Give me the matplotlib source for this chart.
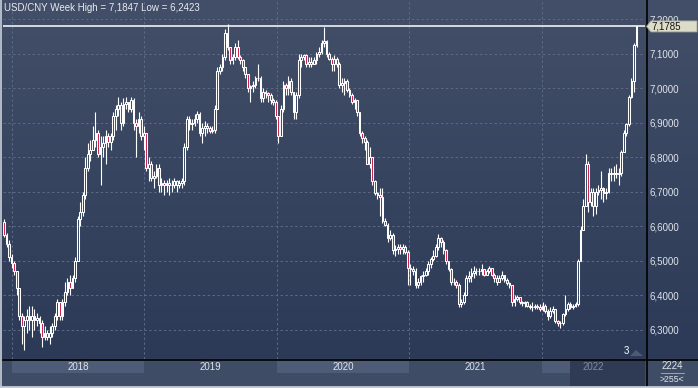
import matplotlib
matplotlib.use("Agg")
import matplotlib.pyplot as plt
import matplotlib.dates as mdates
import numpy as np
import pandas as pd
from matplotlib.patches import Rectangle, Polygon
from matplotlib.colors import LinearSegmentedColormap

W, H = 698, 388

# weekly USD/CNY candles
first_week = "2017-12-11"
first_open = 6.613

closes = [
    6.575, 6.55, 6.51, 6.495, 6.47, 6.42, 6.34, 6.31, 6.33, 6.34,
    6.33, 6.34, 6.33, 6.335, 6.32, 6.28, 6.29, 6.28, 6.29, 6.31,
    6.34, 6.38, 6.34, 6.38, 6.41, 6.44, 6.42, 6.45, 6.50, 6.62,
    6.64, 6.69, 6.77, 6.81, 6.82, 6.85, 6.87, 6.81, 6.83, 6.84,
    6.86, 6.845, 6.86, 6.92, 6.94, 6.95, 6.90, 6.955, 6.96, 6.94,
    6.965, 6.90, 6.89, 6.91, 6.86, 6.87, 6.77, 6.78, 6.74, 6.745,
    6.77, 6.72, 6.725, 6.72, 6.725, 6.72, 6.72, 6.73, 6.72, 6.725,
    6.73, 6.83, 6.91, 6.895, 6.90, 6.91, 6.925, 6.87, 6.885, 6.89,
    6.885, 6.875, 6.88, 6.94, 7.05, 7.06, 7.09, 7.16, 7.12, 7.08,
    7.09, 7.12, 7.09, 7.08, 7.06, 7.04, 7.00, 7.005, 7.01, 7.03,
    7.03, 6.97, 6.99, 6.985, 6.98, 6.965, 6.96, 6.92, 6.86, 6.94,
    7.01, 7.00, 7.02, 6.99, 6.93, 6.98, 7.08, 7.09, 7.095, 7.07,
    7.075, 7.07, 7.08, 7.10, 7.105, 7.13, 7.135, 7.10, 7.085, 7.07,
    7.085, 7.07, 7.01, 7.015, 7.02, 6.995, 6.98, 6.96, 6.965, 6.93,
    6.87, 6.855, 6.845, 6.78, 6.80, 6.73, 6.695, 6.69, 6.685, 6.615,
    6.605, 6.565, 6.575, 6.53, 6.535, 6.54, 6.535, 6.54, 6.525, 6.48,
    6.475, 6.47, 6.43, 6.44, 6.455, 6.46, 6.47, 6.49, 6.505, 6.515,
    6.54, 6.565, 6.555, 6.53, 6.50, 6.475, 6.44, 6.44, 6.43, 6.375,
    6.38, 6.40, 6.45, 6.455, 6.465, 6.47, 6.47, 6.47, 6.475, 6.46,
    6.47, 6.48, 6.46, 6.45, 6.44, 6.45, 6.46, 6.445, 6.435, 6.43,
    6.38, 6.39, 6.395, 6.38, 6.378, 6.38, 6.37, 6.365, 6.365, 6.37,
    6.365, 6.36, 6.37, 6.355, 6.34, 6.355, 6.36, 6.325, 6.32, 6.32,
    6.345, 6.36, 6.375, 6.365, 6.37, 6.375, 6.50, 6.59, 6.66, 6.78,
    6.67, 6.70, 6.66, 6.70, 6.705, 6.71, 6.695, 6.70, 6.755, 6.75,
    6.755, 6.75, 6.755, 6.815, 6.87, 6.895, 6.975, 7.02, 7.125, 7.1785,
]

highs = [
    6.62, 6.58, 6.56, 6.52, 6.50, 6.47, 6.42, 6.35, 6.34, 6.36,
    6.37, 6.37, 6.36, 6.35, 6.34, 6.33, 6.31, 6.30, 6.31, 6.32,
    6.35, 6.39, 6.38, 6.39, 6.44, 6.45, 6.46, 6.46, 6.51, 6.63,
    6.67, 6.70, 6.80, 6.84, 6.85, 6.89, 6.93, 6.88, 6.86, 6.86,
    6.88, 6.87, 6.87, 6.93, 6.95, 6.975, 6.96, 6.97, 6.975, 6.96,
    6.975, 6.97, 6.91, 6.93, 6.92, 6.89, 6.87, 6.80, 6.79, 6.76,
    6.78, 6.78, 6.74, 6.735, 6.735, 6.74, 6.735, 6.74, 6.735, 6.735,
    6.74, 6.84, 6.92, 6.92, 6.91, 6.925, 6.935, 6.93, 6.90, 6.905,
    6.90, 6.89, 6.89, 6.95, 7.06, 7.07, 7.10, 7.17, 7.1847, 7.12,
    7.10, 7.13, 7.14, 7.095, 7.085, 7.06, 7.04, 7.01, 7.02, 7.035,
    7.07, 7.035, 7.00, 6.995, 6.99, 6.985, 6.97, 6.965, 6.92, 6.95,
    7.02, 7.015, 7.035, 7.03, 6.99, 6.99, 7.10, 7.10, 7.10, 7.10,
    7.09, 7.09, 7.09, 7.105, 7.12, 7.14, 7.176, 7.14, 7.105, 7.09,
    7.095, 7.09, 7.075, 7.03, 7.03, 7.025, 7.00, 6.985, 6.97, 6.965,
    6.93, 6.875, 6.86, 6.85, 6.83, 6.80, 6.735, 6.70, 6.71, 6.71,
    6.625, 6.61, 6.59, 6.58, 6.545, 6.55, 6.55, 6.55, 6.545, 6.53,
    6.49, 6.485, 6.48, 6.45, 6.46, 6.47, 6.48, 6.50, 6.51, 6.53,
    6.55, 6.578, 6.57, 6.56, 6.535, 6.50, 6.48, 6.45, 6.445, 6.435,
    6.39, 6.41, 6.46, 6.47, 6.48, 6.485, 6.48, 6.48, 6.49, 6.475,
    6.475, 6.485, 6.48, 6.465, 6.46, 6.46, 6.47, 6.46, 6.45, 6.44,
    6.43, 6.40, 6.40, 6.395, 6.385, 6.385, 6.385, 6.375, 6.38, 6.375,
    6.375, 6.375, 6.38, 6.375, 6.36, 6.365, 6.37, 6.36, 6.33, 6.325,
    6.35, 6.40, 6.38, 6.38, 6.375, 6.38, 6.505, 6.60, 6.68, 6.81,
    6.79, 6.71, 6.71, 6.71, 6.72, 6.76, 6.715, 6.71, 6.77, 6.77,
    6.775, 6.78, 6.77, 6.82, 6.88, 6.90, 6.98, 7.03, 7.13, 7.18,
]

lows = [
    6.57, 6.54, 6.50, 6.48, 6.46, 6.40, 6.33, 6.26, 6.2423, 6.29,
    6.30, 6.28, 6.30, 6.31, 6.29, 6.25, 6.27, 6.27, 6.26, 6.28,
    6.30, 6.33, 6.33, 6.33, 6.37, 6.40, 6.40, 6.42, 6.44, 6.50,
    6.60, 6.63, 6.68, 6.76, 6.79, 6.82, 6.83, 6.80, 6.72, 6.80,
    6.78, 6.83, 6.82, 6.85, 6.88, 6.92, 6.88, 6.89, 6.94, 6.93,
    6.93, 6.88, 6.80, 6.87, 6.85, 6.82, 6.76, 6.73, 6.73, 6.71,
    6.74, 6.70, 6.70, 6.69, 6.70, 6.69, 6.70, 6.71, 6.70, 6.71,
    6.71, 6.72, 6.82, 6.88, 6.88, 6.89, 6.90, 6.86, 6.84, 6.86,
    6.87, 6.87, 6.87, 6.87, 6.94, 7.04, 7.05, 7.08, 7.11, 7.07,
    7.07, 7.08, 7.085, 7.07, 7.05, 7.03, 6.99, 6.96, 6.99, 7.00,
    7.02, 6.96, 6.96, 6.97, 6.96, 6.955, 6.95, 6.91, 6.84, 6.86,
    6.93, 6.98, 6.98, 6.98, 6.91, 6.91, 6.97, 7.06, 7.08, 7.06,
    7.06, 7.06, 7.07, 7.07, 7.09, 7.10, 7.12, 7.09, 7.08, 7.05,
    7.05, 7.06, 7.00, 6.99, 6.98, 6.99, 6.975, 6.955, 6.94, 6.92,
    6.86, 6.84, 6.82, 6.78, 6.77, 6.72, 6.69, 6.68, 6.63, 6.61,
    6.60, 6.555, 6.56, 6.52, 6.515, 6.52, 6.52, 6.52, 6.52, 6.43,
    6.43, 6.46, 6.42, 6.42, 6.43, 6.44, 6.455, 6.46, 6.48, 6.50,
    6.51, 6.53, 6.54, 6.52, 6.49, 6.47, 6.43, 6.43, 6.42, 6.365,
    6.365, 6.375, 6.40, 6.44, 6.44, 6.45, 6.46, 6.46, 6.46, 6.455,
    6.46, 6.465, 6.455, 6.44, 6.43, 6.44, 6.445, 6.44, 6.43, 6.42,
    6.37, 6.37, 6.385, 6.375, 6.37, 6.365, 6.365, 6.36, 6.355, 6.36,
    6.36, 6.355, 6.355, 6.35, 6.33, 6.335, 6.35, 6.32, 6.31, 6.305,
    6.315, 6.34, 6.355, 6.36, 6.36, 6.365, 6.37, 6.50, 6.59, 6.66,
    6.64, 6.66, 6.63, 6.635, 6.69, 6.68, 6.67, 6.68, 6.695, 6.73,
    6.73, 6.74, 6.72, 6.745, 6.815, 6.86, 6.89, 6.97, 6.99, 7.12,
]

price_ticks = [6.3, 6.4, 6.5, 6.6, 6.7, 6.8, 6.9, 7.0, 7.1, 7.2]
years = [2018, 2019, 2020, 2021, 2022]
title = "USD/CNY Week High = 7,1847 Low = 6,2423"
footer_top = "2224"
footer_bottom = ">255<"
marker_label = "3"

# colours
BG_TOP = "#434f68"
BG_BOT = "#2c3a57"
BAND = "#3f4c66"
BAND_BOX = "#4f5c77"
GRID = "#5b6a86"
TXT = "#dfe4ec"
RED = "#c81e48"
FONT = "Liberation Sans"

dates = pd.date_range(first_week, periods=len(closes), freq="7D")
x = mdates.date2num(dates)
c = np.array(closes)
o = np.concatenate([[first_open], c[:-1]])
hi = np.maximum(np.array(highs), np.maximum(o, c))
lo = np.minimum(np.array(lows), np.minimum(o, c))
top_body = np.maximum(o, c)
bot_body = np.minimum(o, c)
down = c < o


def fy(ypx):
    return 1 - ypx / H


fig = plt.figure(figsize=(W / 100, H / 100), dpi=100)
fig.patch.set_facecolor(BAND)

# background in pixel coordinates
bg = fig.add_axes([0, 0, 1, 1], zorder=0)
bg.set_xlim(0, W)
bg.set_ylim(H, 0)
bg.axis("off")
grad = np.linspace(0, 1, 256)[:, None]
cmap = LinearSegmentedColormap.from_list("bg", [BG_TOP, BG_BOT])
bg.imshow(grad, cmap=cmap, extent=(0, W, 359, 0), aspect="auto")
bg.add_patch(Rectangle((0, 359), W, 28, color=BAND))

# main price axes
ax = fig.add_axes([3 / W, fy(359), 642 / W, 359 / H], zorder=2)
ax.patch.set_alpha(0)
ax.set_ylim(6.2159, 7.255)
ax.set_xlim(x[0] - 2.7, x[-1] + 23.4)
for s in ax.spines.values():
    s.set_visible(False)

year_x = mdates.date2num(pd.to_datetime([f"{y}-01-01" for y in years]))
ax.set_xticks(year_x)
ax.set_yticks(price_ticks)
ax.tick_params(axis="x", length=0, labelbottom=False)
ax.yaxis.tick_right()
ax.tick_params(axis="y", length=0, pad=3, labelsize=7, labelcolor=TXT)
ax.set_yticklabels([f"{v:.4f}".replace(".", ",") for v in price_ticks],
                   fontfamily=FONT)
ax.grid(True, color=GRID, lw=0.7, ls=(0, (2.5, 2.5)))

# candles
ax.vlines(x, top_body, hi, color="white", lw=0.8, zorder=3)
ax.vlines(x, lo, bot_body, color="white", lw=0.8, zorder=3)
face = [RED if d else "none" for d in down]
ax.bar(x, top_body - bot_body, bottom=bot_body, width=4.8, color=face,
       edgecolor="white", linewidth=0.75, zorder=4)

last = closes[-1]
ax.axhline(last, color="white", lw=1.1, zorder=5)

# band with years
bax = fig.add_axes([3 / W, fy(386), 642 / W, 26 / H], zorder=2, sharex=ax)
bax.patch.set_alpha(0)
bax.set_ylim(0, 1)
bax.axis("off")
edges = list(year_x) + [ax.get_xlim()[1]]
for k, yv in enumerate(years):
    if k % 2 == 0:
        bax.axvspan(edges[k], edges[k + 1], ymin=0.5, ymax=0.96, color=BAND_BOX, lw=0)
bax.add_patch(Rectangle((0.883, 0), 0.117, 0.96, transform=bax.transAxes,
                        color="#2f3b55", lw=0, zorder=3))
for k, yv in enumerate(years):
    col = "#7f8ca4" if yv == years[-1] else TXT
    bax.text((edges[k] + edges[k + 1]) / 2, 0.73, str(yv), ha="center", va="center",
             fontsize=7, color=col, fontfamily=FONT, zorder=4)

# overlay decorations
top = fig.add_axes([0, 0, 1, 1], zorder=6)
top.set_xlim(0, W)
top.set_ylim(H, 0)
top.axis("off")
top.plot([3, W], [359.5, 359.5], color="black", lw=1.2)
top.plot([646.5, 646.5], [0, 386], color="black", lw=1.2)
top.plot([0.5, 0.5], [0, H], color="#b4bcc8", lw=1.4)
top.plot([0, W], [387, 387], color="#c3cad4", lw=2)

top.text(4, 8, title, ha="left", va="center", fontsize=7, color="#e8ecf2",
         fontfamily=FONT)

ly = H - ax.transData.transform((0, last))[1]
top.add_patch(Polygon([(646.5, ly), (651, ly - 5.5), (697, ly - 5.5), (697, ly + 5.5),
                       (651, ly + 5.5)], closed=True, facecolor="#dcdcc8",
                      edgecolor="#a8a898", lw=0.6, zorder=7))
top.text(651.5, ly + 0.5, f"{last:.4f}".replace(".", ","), ha="left", va="center",
         fontsize=7, color="#111111", fontfamily=FONT, zorder=8)

top.text(626, 351, marker_label, ha="center", va="center", fontsize=7,
         color="white", fontfamily=FONT)
top.add_patch(Polygon([(630, 356), (636, 350), (643, 356)], closed=True,
                      facecolor="#4c5a74", lw=0))

top.text(672, 366, footer_top, ha="center", va="center", fontsize=7,
         color=TXT, fontfamily=FONT)
top.plot([661, 684], [373, 373], color="#aab4c4", lw=0.6)
top.text(672, 379.5, footer_bottom, ha="center", va="center", fontsize=6.3,
         color=TXT, fontfamily=FONT)

fig.savefig("out.png", dpi=100, facecolor=fig.get_facecolor())
